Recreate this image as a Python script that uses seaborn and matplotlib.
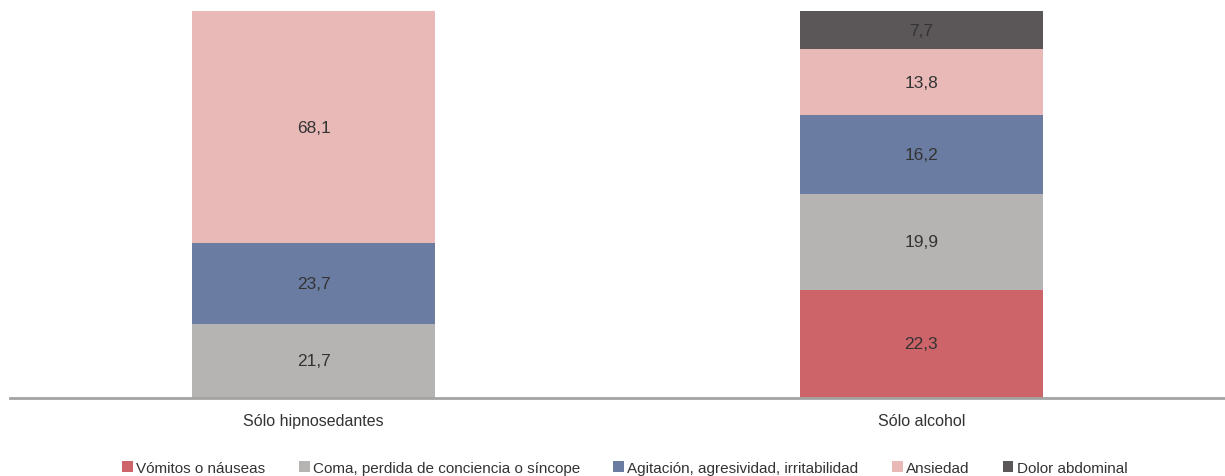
import pandas as pd
import numpy as np
import matplotlib
matplotlib.use("Agg")
import matplotlib.pyplot as plt
from matplotlib.patches import Patch
import seaborn as sns

# data
groups = ["Sólo hipnosedantes", "Sólo alcohol"]
symptoms = ["Vómitos o náuseas", "Coma, perdida de conciencia o síncope",
            "Agitación, agresividad, irritabilidad", "Ansiedad", "Dolor abdominal"]
hipnosedantes = [0.0, 21.7, 23.7, 68.1, 0.0]
alcohol = [22.3, 19.9, 16.2, 13.8, 7.7]
colors = ["#cd6469", "#b6b3b3", "#6b7ca3", "#e9b9b8", "#5b5657"]


def fmt(v):
    return f"{v:.1f}".replace(".", ",")


df = pd.DataFrame({
    "grupo": np.repeat(groups, len(symptoms)),
    "sintoma": symptoms * len(groups),
    "valor": hipnosedantes + alcohol,
})
# each bar is shown as 100 %
df["pct"] = df["valor"] / df.groupby("grupo")["valor"].transform("sum") * 100
df["base"] = df.groupby("grupo")["pct"].cumsum() - df["pct"]

sns.set_theme(style="white")
plt.rcParams["font.family"] = ["Liberation Sans", "DejaVu Sans"]

fig = plt.figure(figsize=(12.25, 4.77), dpi=100)
ax = fig.add_axes([0.008, 0.164, 0.992, 0.81])

for sym, col in zip(symptoms, colors):
    sub = df[df["sintoma"] == sym].set_index("grupo").loc[groups].reset_index()
    sns.barplot(data=sub, x="grupo", y="pct", order=groups, bottom=sub["base"].values,
                color=col, saturation=1, width=0.4, errorbar=None, linewidth=0, ax=ax)
    labels = [fmt(v) if v > 0 else "" for v in sub["valor"]]
    ax.bar_label(ax.containers[-1], labels=labels, label_type="center",
                 fontsize=12.5, color="#333333")

ax.set_ylim(0, 100)
ax.set_xlim(-0.5, 1.5)
ax.set_xlabel("")
ax.set_ylabel("")
ax.set_yticks([])
ax.tick_params(axis="x", length=0, pad=11, labelsize=11.5, labelcolor="#333333")
for s in ["top", "left", "right"]:
    ax.spines[s].set_visible(False)
ax.spines["bottom"].set_color("#a3a3a3")
ax.spines["bottom"].set_linewidth(2)

handles = [Patch(facecolor=c, edgecolor="none", label=s) for s, c in zip(symptoms, colors)]
fig.legend(handles=handles, loc="center", bbox_to_anchor=(0.51, 0.017), ncol=5,
           frameon=False, fontsize=11, handlelength=0.7, handleheight=0.7,
           handletextpad=0.2, columnspacing=2.2, labelcolor="#333333")

fig.savefig("out.png", dpi=100)
